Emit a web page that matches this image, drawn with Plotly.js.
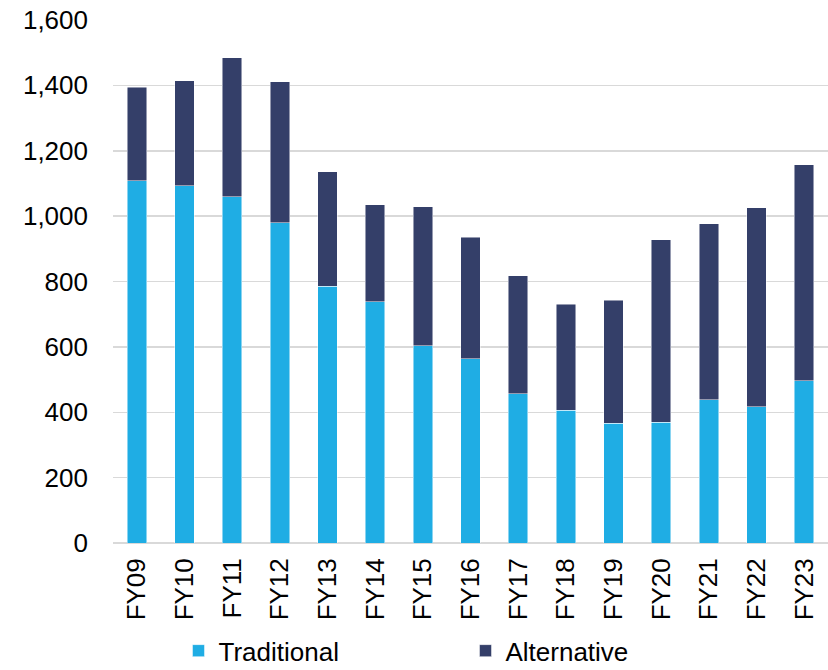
<!DOCTYPE html>
<html><head><meta charset="utf-8">
<script src="https://cdn.plot.ly/plotly-3.0.1.min.js"></script>
<style>html,body{margin:0;padding:0;background:#fff;}#chart{width:828px;height:670px;}</style>
</head><body><div id="chart"></div>
<script>
const categories = ["FY09","FY10","FY11","FY12","FY13","FY14","FY15","FY16","FY17","FY18","FY19","FY20","FY21","FY22","FY23"];
const traditional = [1108,1093,1060,980,786,738,603,564,456,406,367,370,438,417,496];
const alternative = [287,321,424,431,350,297,426,371,361,325,376,557,539,608,661];
const yTicks = [0,200,400,600,800,1000,1200,1400,1600];

const traces = [
  {type:"bar", name:"Traditional", x:categories, y:traditional,
   marker:{color:"#1FADE4", line:{color:"rgba(255,255,255,0.6)", width:0.8}}},
  {type:"bar", name:"Alternative", x:categories, y:alternative,
   marker:{color:"#343F69", line:{color:"rgba(255,255,255,0.6)", width:0.8}}}
];
const layout = {
  width:828, height:670, barmode:"stack", bargap:0.59,
  paper_bgcolor:"#fff", plot_bgcolor:"#fff",
  margin:{l:113, r:0, t:20, b:127, autoexpand:false},
  font:{family:"Liberation Sans, Arial, sans-serif", size:26, color:"#000"},
  showlegend:true,
  legend:{orientation:"h", x:0.493, xanchor:"center", y:-0.206, yanchor:"middle",
          font:{size:26}, entrywidth:242, itemwidth:30, traceorder:"normal"},
  xaxis:{tickangle:-90, showgrid:false, showline:false, ticks:"", tickfont:{size:26},
         ticklabelstandoff:9, automargin:false},
  yaxis:{range:[0,1600], tickvals:yTicks, tickformat:",d", showgrid:true,
         gridcolor:"#d9d9d9", gridwidth:1.5, zeroline:true, zerolinecolor:"#d9d9d9",
         zerolinewidth:1.5, showline:false, ticks:"", ticklabelstandoff:24,
         tickfont:{size:26}, automargin:false}
};
Plotly.newPlot("chart", traces, layout, {displayModeBar:false, staticPlot:true});
</script></body></html>
